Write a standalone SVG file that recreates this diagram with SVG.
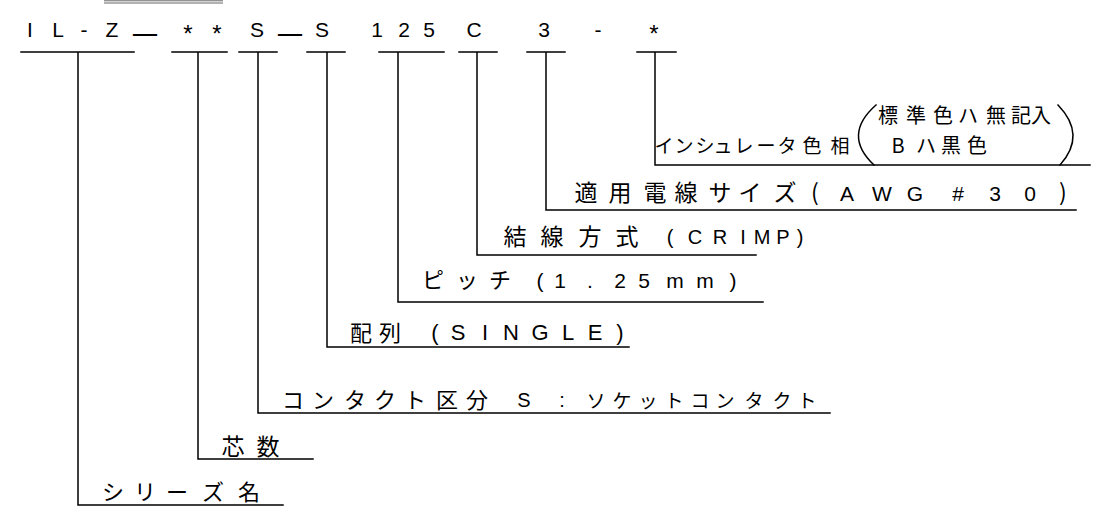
<svg xmlns="http://www.w3.org/2000/svg" width="1113" height="517" viewBox="0 0 1113 517">
<style>
.ln{stroke:#000;stroke-width:1.5;fill:none;stroke-linecap:square}
.code{font-family:"Liberation Sans",Arial,sans-serif;font-size:21px;fill:#000;text-anchor:middle}
.us{font-family:"Liberation Mono","Courier New",monospace;font-size:40px}
.ast{font-size:24px}
.jp{font-family:"Noto Sans CJK JP",sans-serif;font-weight:400;fill:#000;text-anchor:middle}
.lat{font-family:"Liberation Sans",Arial,sans-serif;fill:#000;text-anchor:middle}
</style>
<rect width="1113" height="517" fill="#fff"/>
<g id="topmark">
<line x1="104" y1="0.8" x2="223" y2="0.8" stroke="#666" stroke-width="1"/>
<line x1="104" y1="3" x2="223" y2="3" stroke="#666" stroke-width="1"/>
</g>
<g id="code">
<text class="code"><tspan x="30 58 84 112" y="37">IL-Z</tspan><tspan class="us" x="145" y="32">_</tspan><tspan class="ast" x="188 217" y="42">**</tspan><tspan x="257" y="37">S</tspan><tspan class="us" x="290" y="32">_</tspan><tspan x="322 377 404 429 474 544 598" y="37">S125C3-</tspan><tspan class="ast" x="654" y="42">*</tspan></text>
</g>
<g id="connectors">
<path class="ln" d="M21 52H134M78 52V505H283"/>
<path class="ln" d="M172 52H227M198 52V459H313"/>
<path class="ln" d="M239 52H277M258 52V413H830"/>
<path class="ln" d="M307 52H345M327 52V347H629"/>
<path class="ln" d="M379 52H444M398 52V302H763"/>
<path class="ln" d="M459 52H497M477 52V255H756"/>
<path class="ln" d="M527 52H565M546 52V210H1076"/>
<path class="ln" d="M637 52H676M655 52V165H1090"/>
<path class="ln" d="M876 105Q842 135 874 165"/>
<path class="ln" d="M1058 105Q1087 135 1060 165"/>
</g>
<g id="insulator">
<text class="jp" style="font-size:19px" x="664 684 705 723 744 766 787 812 840" y="153">インシュレータ色相</text>
<text class="jp" style="font-size:20px"><tspan x="888 916 943 968 996 1021 1041" y="123">標準色ハ無記入</tspan><tspan x="898 926 951 977" y="153">Bハ黒色</tspan></text>
</g>
<g id="wire">
<text class="jp" style="font-size:23px" x="586 620 655 686 720 750 785 815" y="201">適用電線サイズ(</text>
<text class="lat" style="font-size:21px" x="847 882 915 958 995 1030" y="201">AWG#30</text>
<text class="jp" style="font-size:23px" x="1063" y="201">)</text>
</g>
<g id="termination">
<text class="jp" style="font-size:23px" x="515 552 590 627" y="245">結線方式</text>
<text class="lat" style="font-size:20px" x="670 695 720 743 762 783 800" y="244">(CRIMP)</text>
</g>
<g id="pitch">
<text class="jp" style="font-size:22px" x="433 467 500" y="288">ピッチ</text>
<text class="lat" style="font-size:21px" x="540 560 590 620 644 675 705 733" y="288">(1.25mm)</text>
</g>
<g id="arrangement">
<text class="jp" style="font-size:22px" x="361 390" y="341">配列</text>
<text class="lat" style="font-size:22px" x="435 458 485 511 540 568 595 620" y="340">(SINGLE)</text>
</g>
<g id="contact">
<text class="jp" style="font-size:22px" x="293 323 355 385 415 447 477" y="408">コンタクト区分</text>
<text class="lat" style="font-size:20px" x="524 562" y="407">S:</text>
<text class="jp" style="font-size:19px" x="596 622 648 674 700 725 754 782 807" y="408">ソケットコンタクト</text>
</g>
<g id="cores">
<text class="jp" style="font-size:23px" x="233 268" y="455">芯数</text>
</g>
<g id="series">
<text class="jp" style="font-size:22px" x="113 145 177 213 249" y="500">シリーズ名</text>
</g>
</svg>
